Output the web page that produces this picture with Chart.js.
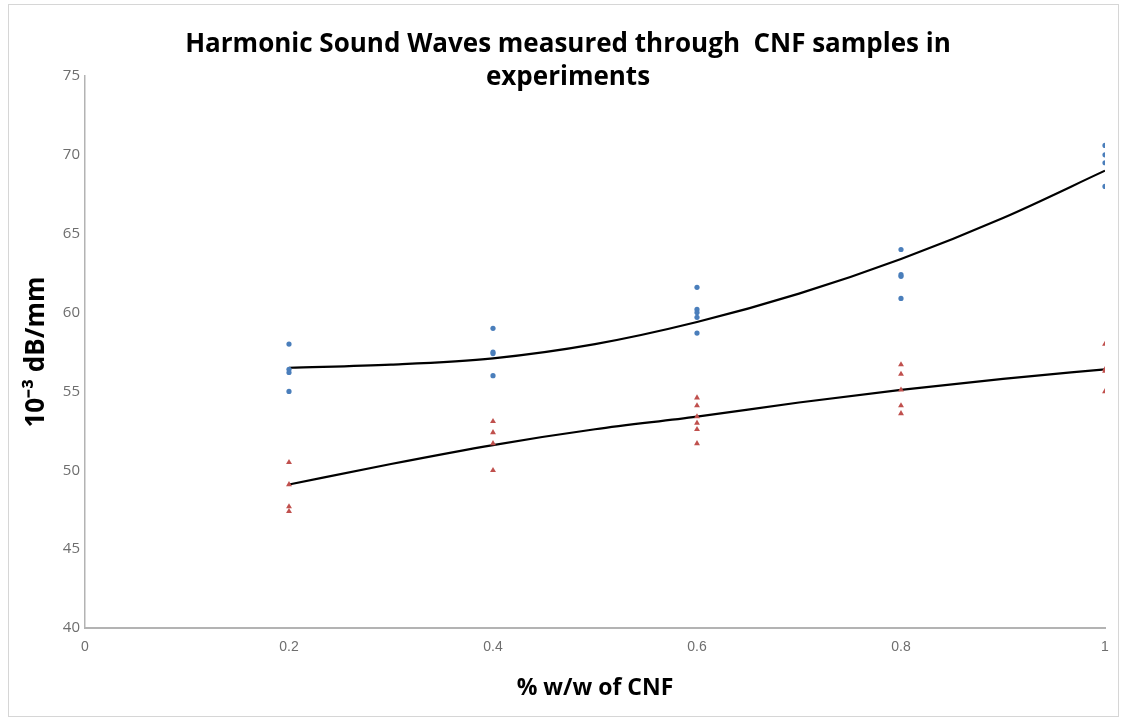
<!DOCTYPE html>
<html>
<head>
<meta charset="utf-8">
<script src="https://cdn.jsdelivr.net/npm/chart.js@4.4.1/dist/chart.umd.min.js"></script>
<style>
  html, body { margin: 0; padding: 0; background: #ffffff; }
  #wrap { width: 1124px; height: 724px; position: relative; }
</style>
</head>
<body>
<div id="wrap"><canvas id="c" width="1124" height="724"></canvas></div>
<script>
// ---- data ----
const concentrations = [0.2, 0.4, 0.6, 0.8, 1.0];
const seriesA = [
  [58.0, 56.4, 56.2, 55.0],
  [59.0, 57.5, 57.4, 56.0],
  [61.6, 60.2, 60.0, 59.7, 58.7],
  [64.0, 62.4, 62.3, 60.9],
  [70.6, 70.0, 69.5, 68.0]
];
const seriesB = [
  [50.5, 49.1, 47.7, 47.4],
  [53.1, 52.4, 51.7, 50.0],
  [54.6, 54.1, 53.4, 53.0, 52.6, 51.7],
  [56.7, 56.1, 55.1, 54.1, 53.6],
  [58.0, 56.4, 56.3, 55.0]
];
const trendX = [0.2, 0.3, 0.4, 0.5, 0.6, 0.7, 0.8, 0.9, 1.0];
const trendA = [56.5, 56.7, 57.1, 58.0, 59.4, 61.2, 63.4, 66.0, 69.0];
const trendB = [49.1, 50.4, 51.6, 52.6, 53.4, 54.3, 55.1, 55.8, 56.4];
const chartTitle = ['Harmonic Sound Waves measured through  CNF samples in', 'experiments'];
const xAxisTitle = '% w/w of CNF';
const yAxisTitle = '10\u207B\u00B3 dB/mm';

function toPoints(xs, groups) {
  const pts = [];
  xs.forEach((x, i) => groups[i].forEach(v => pts.push({x: x, y: v})));
  return pts;
}
function toLine(xs, ys) { return xs.map((x, i) => ({x: x, y: ys[i]})); }

const titlePlugin = {
  id: 'customTitle',
  beforeDraw(chart) {
    const ctx = chart.ctx;
    ctx.save();
    ctx.strokeStyle = '#d6d6d6';
    ctx.lineWidth = 1;
    ctx.strokeRect(8.5, 4.5, 1110, 712);
    ctx.restore();
  },
  afterDraw(chart) {
    const ctx = chart.ctx;
    ctx.save();
    ctx.fillStyle = '#000000';
    ctx.font = 'bold 26px "Open Sans"';
    ctx.textAlign = 'center';
    ctx.textBaseline = 'middle';
    ctx.fillText(chartTitle[0], 568, 45);
    ctx.fillText(chartTitle[1], 568, 78);
    ctx.restore();
  }
};

new Chart(document.getElementById('c'), {
  type: 'scatter',
  data: {
    datasets: [
      {
        label: 'Series A', data: toPoints(concentrations, seriesA),
        pointStyle: 'circle', pointRadius: 2.6, backgroundColor: '#4a7ebb', borderColor: '#4a7ebb', borderWidth: 0
      },
      {
        label: 'Series B', data: toPoints(concentrations, seriesB),
        pointStyle: 'triangle', pointRadius: 3.4, backgroundColor: '#c0504d', borderColor: '#c0504d', borderWidth: 0
      },
      {
        label: 'Trend A', type: 'line', data: toLine(trendX, trendA), showLine: true,
        borderColor: '#000000', borderWidth: 2.2, pointRadius: 0, fill: false, cubicInterpolationMode: 'monotone'
      },
      {
        label: 'Trend B', type: 'line', data: toLine(trendX, trendB), showLine: true,
        borderColor: '#000000', borderWidth: 2.2, pointRadius: 0, fill: false, cubicInterpolationMode: 'monotone'
      }
    ]
  },
  options: {
    responsive: false,
    animation: false,
    layout: { padding: { top: 76, left: 12, right: 19, bottom: 14 } },
    plugins: { legend: { display: false }, tooltip: { enabled: false }, title: { display: false } },
    scales: {
      x: {
        type: 'linear', min: 0, max: 1,
        ticks: { stepSize: 0.2, padding: 11, color: '#6e6e6e', font: { family: 'Liberation Sans', size: 14 },
                 callback: v => String(Math.round(v * 10) / 10) },
        grid: { display: false, drawTicks: false },
        border: { display: true, color: '#b3b3b3', width: 2 },
        title: { display: true, text: xAxisTitle, color: '#000000', font: { family: 'Open Sans', size: 23, weight: 'bold' }, padding: { top: 0, bottom: 8 } },
        afterFit: s => { s.height = 724 - 14 - 628; }
      },
      y: {
        type: 'linear', min: 40, max: 75,
        ticks: { stepSize: 5, padding: 5, color: '#6e6e6e', font: { family: 'Open Sans', size: 15 } },
        grid: { display: false, drawTicks: false },
        border: { display: true, color: '#b3b3b3', width: 1.5 },
        title: { display: true, text: yAxisTitle, color: '#000000', font: { family: 'Open Sans', size: 26, weight: 'bold' }, padding: { top: 9, bottom: 0 } },
        afterFit: s => { s.width = 85 - 12; }
      }
    }
  },
  plugins: [titlePlugin]
});
</script>
</body>
</html>
